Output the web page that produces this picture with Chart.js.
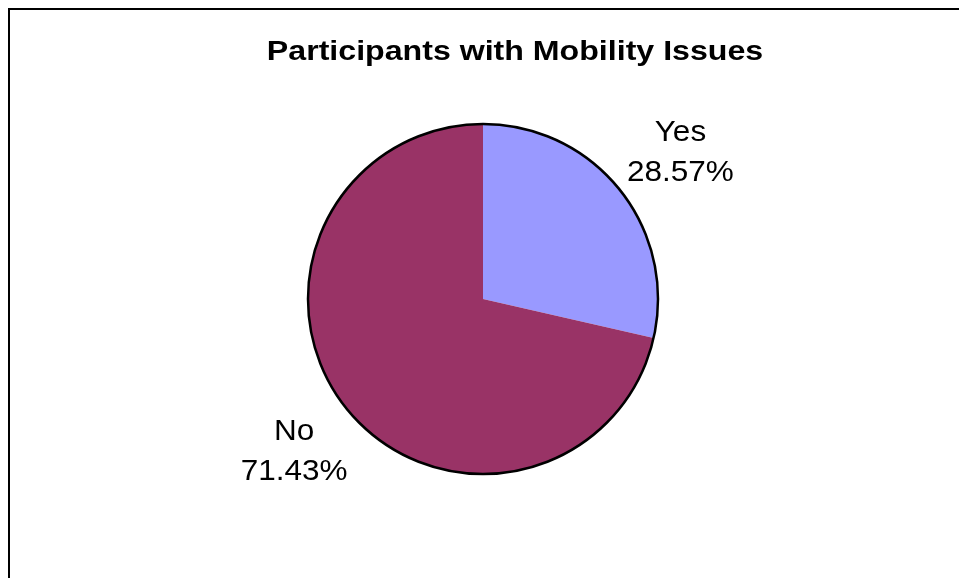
<!DOCTYPE html>
<html>
<head>
<meta charset="utf-8">
<title>Participants with Mobility Issues</title>
<script src="https://cdn.jsdelivr.net/npm/chart.js@4"></script>
<style>
  html, body { margin: 0; padding: 0; background: #fff; overflow: hidden; }
  #wrap { width: 959px; height: 578px; }
</style>
</head>
<body>
<div id="wrap"><canvas id="mobility" width="959" height="578"></canvas></div>
<script>
const chartTitle = "Participants with Mobility Issues";
const labels = ["Yes", "No"];
const percents = [28.57, 71.43];
const colors = ["#9999FF", "#993366"];

// writes text centred on (x, y), stretched sideways by sx
function wideText(ctx, text, x, y, sx) {
  ctx.save();
  ctx.translate(x, y);
  ctx.scale(sx, 1);
  ctx.fillText(text, 0, 0);
  ctx.restore();
}

// frame around the chart (only top and left edges fall inside the canvas)
const framePlugin = {
  id: "frame",
  beforeDraw(chart) {
    const ctx = chart.ctx;
    ctx.save();
    ctx.fillStyle = "#fff";
    ctx.fillRect(0, 0, chart.width, chart.height);
    ctx.strokeStyle = "#000";
    ctx.lineWidth = 2;
    ctx.strokeRect(9, 9, chart.width * 2, chart.height * 2);
    ctx.restore();
  }
};

// title drawn by hand so it can sit off the pie's centre line
const titlePlugin = {
  id: "pieTitle",
  afterDraw(chart) {
    const ctx = chart.ctx;
    ctx.save();
    ctx.font = "bold 27px 'Liberation Sans', Arial, sans-serif";
    ctx.fillStyle = "#000";
    ctx.textAlign = "center";
    ctx.textBaseline = "middle";
    wideText(ctx, chartTitle, 515, 53, 1.19);
    ctx.restore();
  }
};

// black outline round the whole pie, none between the slices
const outlinePlugin = {
  id: "outline",
  afterDatasetsDraw(chart) {
    const arc = chart.getDatasetMeta(0).data[0];
    if (!arc) return;
    const ctx = chart.ctx;
    ctx.save();
    ctx.strokeStyle = "#000";
    ctx.lineWidth = 2.5;
    ctx.beginPath();
    ctx.arc(arc.x, arc.y, arc.outerRadius, 0, Math.PI * 2);
    ctx.stroke();
    ctx.restore();
  }
};

// category name and percentage outside each slice
const labelPlugin = {
  id: "sliceLabels",
  afterDatasetsDraw(chart) {
    const meta = chart.getDatasetMeta(0);
    const ctx = chart.ctx;
    ctx.save();
    ctx.font = "30px 'Liberation Sans', Arial, sans-serif";
    ctx.fillStyle = "#000";
    ctx.textAlign = "center";
    ctx.textBaseline = "middle";
    meta.data.forEach((arc, i) => {
      const mid = (arc.startAngle + arc.endAngle) / 2 + (i === 0 ? 0.03 : 0);
      const dist = arc.outerRadius * (i === 0 ? 1.41 : 1.38);
      const x = arc.x + Math.cos(mid) * dist;
      const y = arc.y + Math.sin(mid) * dist + 2;
      wideText(ctx, labels[i], x, y - 20, 1.05);
      wideText(ctx, percents[i].toFixed(2) + "%", x, y + 20, 1.05);
    });
    ctx.restore();
  }
};

new Chart(document.getElementById("mobility"), {
  type: "pie",
  data: {
    labels: labels,
    datasets: [{
      data: percents,
      backgroundColor: colors,
      borderWidth: 0
    }]
  },
  options: {
    responsive: false,
    animation: false,
    layout: { padding: { left: 308, right: 301, top: 124, bottom: 104 } },
    plugins: {
      legend: { display: false },
      tooltip: { enabled: false },
      title: { display: false }
    }
  },
  plugins: [framePlugin, outlinePlugin, labelPlugin, titlePlugin]
});
</script>
</body>
</html>
